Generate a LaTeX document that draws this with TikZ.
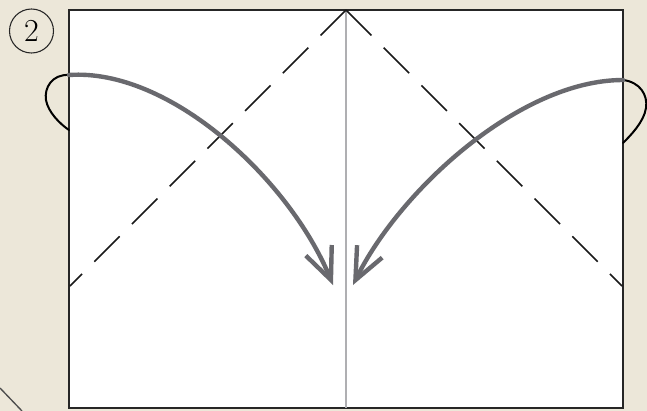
\documentclass[tikz,border=0pt]{standalone}
\usetikzlibrary{arrows.meta}
\definecolor{bg}{RGB}{236,231,217}
\definecolor{arrowgray}{RGB}{105,105,110}
\definecolor{foldline}{RGB}{175,175,178}
\tikzset{
  paper/.style={fill=white,draw=black!85,line width=1.3pt},
  valley/.style={draw=black!90,line width=1.1pt,dash pattern=on 27pt off 13pt},
  crease/.style={draw=foldline,line width=0.8pt},
  loopline/.style={draw=black,line width=1.5pt,line cap=round},
  foldarrow/.style={draw=arrowgray,line width=3.3pt,line cap=round,
    -{Straight Barb[length=24pt,width=21pt,line width=3.3pt]}},
  stepnum/.style={circle,draw=black!85,line width=0.8pt,minimum size=33pt,inner sep=0pt,
    font=\fontsize{24}{24}\selectfont}
}
\begin{document}
\begin{tikzpicture}[x=0.75pt,y=-0.75pt]
\useasboundingbox (0,0) rectangle (647,411);
\fill[bg] (0,0) rectangle (647,411);
% paper edge at bottom-left corner
\draw[black!70,line width=1pt] (0,388) -- (22,411);
% paper
\draw[paper] (69,10) rectangle (623,408);
\coordinate (apex) at (346,10);
\coordinate (bot) at (346,408);
\coordinate (dl) at (70,286);
\coordinate (dr) at (622,286);
\draw[crease] (apex) -- (bot);
\draw[valley] (apex) -- (dl);
\draw[valley] (apex) -- (dr);
% step number
\node[stepnum] (num) at (31.5,31) {2};
% left arrow
\coordinate (ls) at (69,75);
\coordinate (lt) at (333,285);
\coordinate (lb) at (69,130);
\draw[loopline] (ls) .. controls (52,74) and (44,88) .. (46,100) .. controls (48,112) and (60,124) .. (lb);
\draw[foldarrow] (ls) .. controls (170,68) and (290,180) .. (lt);
% right arrow
\coordinate (rs) at (623,80);
\coordinate (rt) at (353,285);
\coordinate (rb) at (623,143);
\draw[loopline] (rs) .. controls (640,82) and (648,95) .. (646,108) .. controls (644,122) and (630,136) .. (rb);
\draw[foldarrow] (rs) .. controls (520,80) and (400,190) .. (rt);
\end{tikzpicture}
\end{document}
